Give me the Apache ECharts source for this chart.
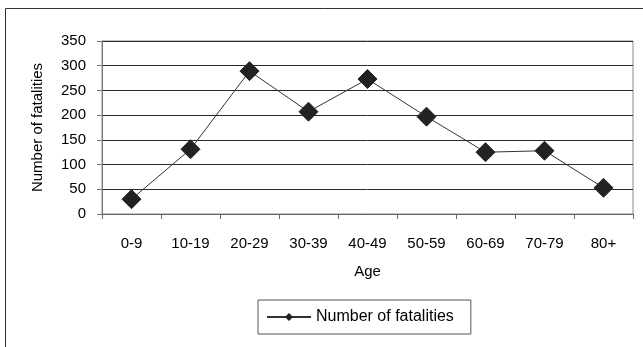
<!DOCTYPE html>
<html>
<head>
<meta charset="utf-8">
<script src="https://cdn.jsdelivr.net/npm/echarts@6/dist/echarts.min.js"></script>
<style>
  html, body { margin: 0; padding: 0; background: #fff; }
  #chart { width: 643px; height: 347px; }
</style>
</head>
<body>
<div id="chart"></div>
<script>
// Road fatalities by age group
const ageGroups = ['0-9', '10-19', '20-29', '30-39', '40-49', '50-59', '60-69', '70-79', '80+'];
const fatalities = [30, 131, 289, 207, 273, 197, 125, 128, 53];
const yTicks = [0, 50, 100, 150, 200, 250, 300, 350];

const FONT = 'Liberation Sans, Arial, sans-serif';
const chart = echarts.init(document.getElementById('chart'), null, { renderer: 'canvas' });

chart.setOption({
  animation: false,
  backgroundColor: '#fff',
  textStyle: { fontFamily: FONT, color: '#000' },
  graphic: [{
    type: 'rect',
    shape: { x: 5.5, y: 8.5, width: 700, height: 400 },
    style: { fill: 'none', stroke: '#333', lineWidth: 1 },
    silent: true
  }],
  grid: {
    left: 102, right: 10, top: 41, bottom: 133,
    show: true, borderColor: '#8a8a8a', borderWidth: 1
  },
  legend: {
    left: 258, top: 300,
    itemWidth: 44, itemHeight: 10, itemGap: 4,
    padding: [9, 17, 9, 8],
    borderColor: '#555', borderWidth: 1,
    textStyle: { fontFamily: FONT, fontSize: 16, color: '#000' },
    data: ['Number of fatalities']
  },
  xAxis: {
    type: 'category',
    data: ageGroups,
    boundaryGap: true,
    name: 'Age',
    nameLocation: 'middle',
    nameGap: 50,
    nameTextStyle: { fontFamily: FONT, fontSize: 15, color: '#000' },
    axisLine: { lineStyle: { color: '#666', width: 1 } },
    axisTick: { show: true, length: 5, lineStyle: { color: '#666' } },
    axisLabel: { fontFamily: FONT, fontSize: 15, color: '#000', margin: 22, interval: 0 }
  },
  yAxis: {
    type: 'value',
    min: yTicks[0],
    max: yTicks[yTicks.length - 1],
    interval: 50,
    name: 'Number of fatalities',
    nameLocation: 'middle',
    nameGap: 57,
    nameTextStyle: { fontFamily: FONT, fontSize: 15, color: '#000' },
    axisLine: { show: true, lineStyle: { color: '#777', width: 1 } },
    axisTick: { show: true, length: 5, inside: false, lineStyle: { color: '#777' } },
    axisLabel: { fontFamily: FONT, fontSize: 15, color: '#000', margin: 16 },
    splitLine: { show: true, lineStyle: { color: '#2a2a2a', width: 1 } }
  },
  series: [{
    name: 'Number of fatalities',
    type: 'line',
    data: fatalities,
    symbol: 'diamond',
    symbolSize: 19,
    lineStyle: { color: '#333', width: 1 },
    itemStyle: { color: '#222', borderColor: '#222' }
  }]
});
</script>
</body>
</html>
